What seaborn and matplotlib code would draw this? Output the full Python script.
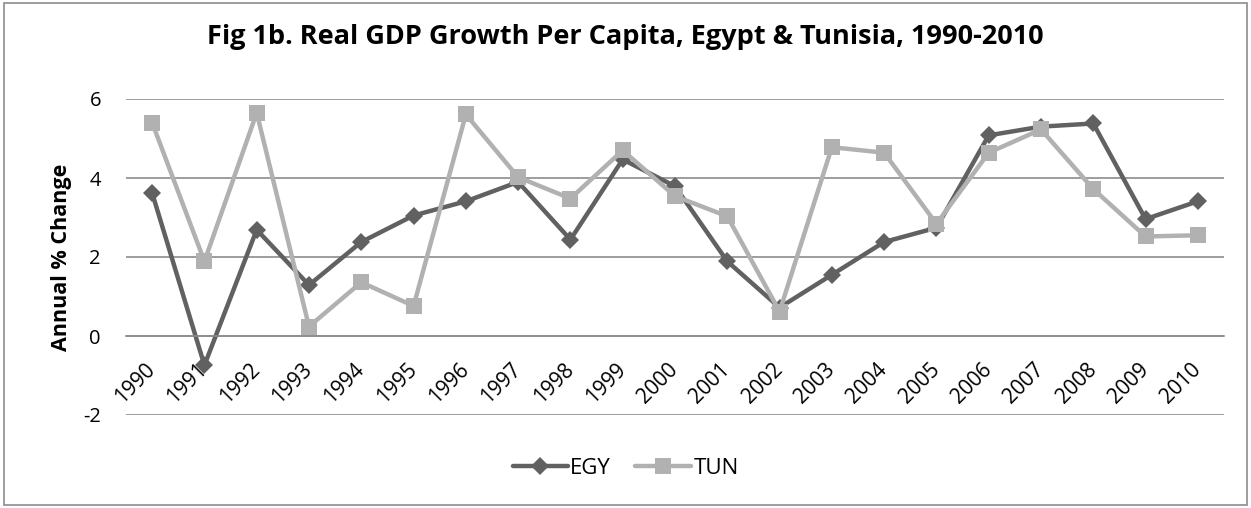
import pandas as pd
import numpy as np
import seaborn as sns
import matplotlib.pyplot as plt
from matplotlib.patches import Rectangle
from matplotlib.lines import Line2D

#DATA
years = list(range(1990, 2011))
egy = [3.62, -0.74, 2.69, 1.29, 2.38, 3.05, 3.41, 3.90, 2.44, 4.47, 3.79,
       1.89, 0.72, 1.55, 2.38, 2.74, 5.08, 5.30, 5.38, 2.96, 3.41]
tun = [5.40, 1.89, 5.65, 0.24, 1.36, 0.76, 5.61, 4.02, 3.48, 4.70, 3.54,
       3.03, 0.62, 4.78, 4.64, 2.84, 4.64, 5.23, 3.72, 2.52, 2.55]
series_names = ['EGY', 'TUN']
title = 'Fig 1b. Real GDP Growth Per Capita, Egypt & Tunisia, 1990-2010'

df = pd.DataFrame({'year': years * 2,
                   'value': egy + tun,
                   'country': ['EGY'] * len(years) + ['TUN'] * len(years)})

sns.set_style('white')
plt.rcParams['font.family'] = ['Open Sans', 'DejaVu Sans']
plt.rcParams['axes.unicode_minus'] = False
plt.rcParams['text.color'] = 'black'
plt.rcParams['axes.labelcolor'] = 'black'
plt.rcParams['xtick.color'] = 'black'
plt.rcParams['ytick.color'] = 'black'

colors = {'EGY': '#616161', 'TUN': '#b1b1b1'}
markers = {'EGY': 'D', 'TUN': 's'}
msizes = {'EGY': 9, 'TUN': 12}
fs = 14.5

fig = plt.figure(figsize=(12.51, 5.08), dpi=100)
ax = fig.add_axes([126/1251, 1-415/508, (1224-126)/1251, (415-99)/508])

for name in series_names:
    sub = df[df['country'] == name]
    sns.lineplot(data=sub, x='year', y='value', ax=ax, color=colors[name],
                 marker=markers[name], markersize=msizes[name], linewidth=3.2,
                 mew=0, mec=colors[name], legend=False)

#AXES STYLE
for s in ['left', 'right', 'top']:
    ax.spines[s].set_visible(False)
ax.spines['bottom'].set_position(('data', 0))
ax.spines['bottom'].set_color('#8c8c8c')
ax.spines['bottom'].set_linewidth(1.2)

ax.set_xlim(years[0] - 0.5, years[-1] + 0.5)
ax.set_ylim(-2, 6)
ax.set_yticks([-2, 0, 2, 4, 6])
ax.set_xticks(years)
ax.set_xticklabels([str(y) for y in years], rotation=45, ha='right',
                   va='center', rotation_mode='anchor', fontsize=fs + 0.5)
ax.tick_params(axis='y', length=0, pad=18, labelsize=fs)
ax.tick_params(axis='x', length=0, pad=22)
ax.grid(axis='y', color='#8c8c8c', linewidth=1.2)
ax.set_axisbelow(True)

ax.set_xlabel('')
ax.set_ylabel('Annual % Change', fontsize=15.5, fontweight='bold', labelpad=8)

fig.text(0.5, 1-37/508, title, ha='center', va='center', fontsize=19.5,
         fontweight='bold')

handles = [Line2D([], [], color=colors[n], marker=markers[n], markersize=msizes[n],
                  linewidth=3.2, mew=0) for n in series_names]
fig.legend(handles, series_names, loc='center', bbox_to_anchor=(0.5, 1-468/508),
           ncol=2, frameon=False, fontsize=16, handlelength=2.5,
           handletextpad=0.1, columnspacing=1.1)

fig.add_artist(Rectangle((4/1251, 3/508), 1-8/1251, 1-6/508, transform=fig.transFigure,
                         fill=False, edgecolor='#8c8c8c', linewidth=1.2))

fig.savefig('out.png', dpi=100)
